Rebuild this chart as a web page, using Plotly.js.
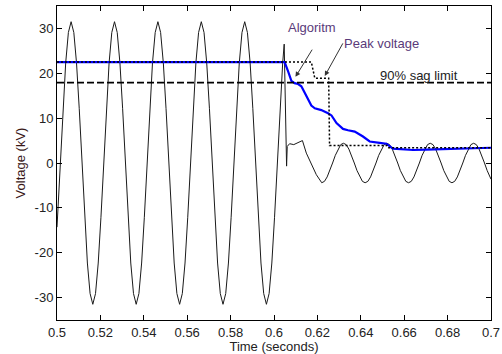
<!DOCTYPE html>
<html>
<head>
<meta charset="utf-8">
<script src="https://cdn.plot.ly/plotly-3.0.1.min.js"></script>
<style>html,body{margin:0;padding:0;background:#fff;}#chart{width:502px;height:354px;}</style>
</head>
<body>
<div id="chart"></div>
<script>
// Measured voltage waveform (kV) vs time (s)
var waveT = [0.5,
0.5015,0.50275,0.504,0.50525,0.5065,0.50775,0.509,0.51025,0.5115,0.51275,0.514,0.51525,0.5165,0.51775,0.519,0.52025,
0.5215,0.52275,0.524,0.52525,0.5265,0.52775,0.529,0.53025,0.5315,0.53275,0.534,0.53525,0.5365,0.53775,0.539,0.54025,
0.5415,0.54275,0.544,0.54525,0.5465,0.54775,0.549,0.55025,0.5515,0.55275,0.554,0.55525,0.5565,0.55775,0.559,0.56025,
0.5615,0.56275,0.564,0.56525,0.5665,0.56775,0.569,0.57025,0.5715,0.57275,0.574,0.57525,0.5765,0.57775,0.579,0.58025,
0.5815,0.58275,0.584,0.58525,0.5865,0.58775,0.589,0.59025,0.5915,0.59275,0.594,0.59525,0.5965,0.59775,0.599,0.60025,
0.6015,0.60275,0.604,0.6047,0.6058,0.6061,
0.6072,0.6091,0.6111,0.6131,0.6149,0.6172,0.6195,
0.622,0.62325,0.6245,0.62575,0.627,0.62825,0.6295,0.63075,0.632,0.63325,0.6345,0.63575,0.637,0.63825,0.6395,0.64075,
0.642,0.64325,0.6445,0.64575,0.647,0.64825,0.6495,0.65075,0.652,0.65325,0.6545,0.65575,0.657,0.65825,0.6595,0.66075,
0.662,0.66325,0.6645,0.66575,0.667,0.66825,0.6695,0.67075,0.672,0.67325,0.6745,0.67575,0.677,0.67825,0.6795,0.68075,
0.682,0.68325,0.6845,0.68575,0.687,0.68825,0.6895,0.69075,0.692,0.69325,0.6945,0.69575,0.697,0.69825,0.6995,0.7];
var waveV = [-14.3,
0,12.1,22.3,29.1,31.5,29.1,22.3,12.1,0,-12.1,-22.3,-29.1,-31.5,-29.1,-22.3,-12.1,
0,12.1,22.3,29.1,31.5,29.1,22.3,12.1,0,-12.1,-22.3,-29.1,-31.5,-29.1,-22.3,-12.1,
0,12.1,22.3,29.1,31.5,29.1,22.3,12.1,0,-12.1,-22.3,-29.1,-31.5,-29.1,-22.3,-12.1,
0,12.1,22.3,29.1,31.5,29.1,22.3,12.1,0,-12.1,-22.3,-29.1,-31.5,-29.1,-22.3,-12.1,
0,12.1,22.3,29.1,31.5,29.1,22.3,12.1,0,-12.1,-22.3,-29.1,-31.5,-29.1,-22.3,-12.1,
0,12.1,22.3,26.5,-0.7,3.7,
4.3,4.1,4.6,5.0,2.2,-0.4,-2.6,
-4.4,-4.1,-3.1,-1.7,0,1.7,3.1,4.1,4.4,4.1,3.1,1.7,0,-1.7,-3.1,-4.1,
-4.4,-4.1,-3.1,-1.7,0,1.7,3.1,4.1,4.4,4.1,3.1,1.7,0,-1.7,-3.1,-4.1,
-4.4,-4.1,-3.1,-1.7,0,1.7,3.1,4.1,4.4,4.1,3.1,1.7,0,-1.7,-3.1,-4.1,
-4.4,-4.1,-3.1,-1.7,0,1.7,3.1,4.1,4.4,4.1,3.1,1.7,0,-1.7,-3.1,-3.6];

// Algorithm estimate (blue)
var algoT = [0.5,0.6049,0.6065,0.608,0.6095,0.6111,0.6126,0.6141,0.6157,0.6172,0.6188,0.6218,0.6249,0.6265,0.6288,0.6318,0.6341,0.6372,0.641,0.6441,0.6487,0.6518,0.6548,0.66,0.6641,0.6702,0.6794,0.6887,0.7];
var algoV = [22.5,22.5,20.4,18.3,17.8,17.6,17.1,15.6,14.1,12.8,12.2,11.8,11.1,10.6,8.9,7.6,7.3,7.0,5.9,4.8,4.5,4.3,3.2,3.0,2.9,3.0,3.1,3.3,3.4];

// Peak voltage method (dotted)
var peakT = [0.5,0.6172,0.6188,0.6252,0.6256,0.652,0.6525,0.7];
var peakV = [22.5,22.5,18.9,18.9,3.9,3.9,3.4,3.4];

// 90% sag limit (dashed)
var sagT = [0.5,0.7];
var sagV = [17.9,17.9];

var xTicks = [0.5,0.52,0.54,0.56,0.58,0.6,0.62,0.64,0.66,0.68,0.7];
var yTicks = [-30,-20,-10,0,10,20,30];

var FONT = 'Liberation Sans, Arial, sans-serif';

var traces = [
  {x: waveT, y: waveV, type: 'scatter', mode: 'lines', line: {color: '#1a1a1a', width: 1}, hoverinfo: 'skip'},
  {x: algoT, y: algoV, type: 'scatter', mode: 'lines', line: {color: '#0000ff', width: 2.2}, hoverinfo: 'skip'},
  {x: peakT, y: peakV, type: 'scatter', mode: 'lines', line: {color: '#000', width: 1.5, dash: '2px,2px'}, hoverinfo: 'skip'},
  {x: sagT, y: sagV, type: 'scatter', mode: 'lines', line: {color: '#000', width: 1.8, dash: '7px,3px'}, hoverinfo: 'skip'}
];

var axisCommon = {
  showline: true, linecolor: '#000', linewidth: 1, mirror: 'allticks',
  ticks: 'inside', ticklen: 5, tickcolor: '#000', tickwidth: 1,
  showgrid: false, zeroline: false,
  tickfont: {family: FONT, size: 13, color: '#222'}
};

var layout = {
  width: 502, height: 354,
  margin: {l: 57, r: 11, t: 6, b: 34},
  paper_bgcolor: '#fff', plot_bgcolor: '#fff',
  showlegend: false,
  font: {family: FONT, size: 13, color: '#222'},
  xaxis: Object.assign({}, axisCommon, {
    range: [0.5, 0.7], tickvals: xTicks, ticktext: xTicks.map(String),
    title: {text: 'Time (seconds)', font: {family: FONT, size: 13, color: '#222'}, standoff: 1}
  }),
  yaxis: Object.assign({}, axisCommon, {
    range: [-35, 35], tickvals: yTicks, ticktext: yTicks.map(String),
    title: {text: 'Voltage (kV)', font: {family: FONT, size: 13, color: '#3a1818'}, standoff: 6}
  }),
  annotations: [
    {x: 0.6099, y: 19.2, xref: 'x', yref: 'y', axref: 'x', ayref: 'y', ax: 0.6180, ay: 25.6,
     text: '', showarrow: true, arrowhead: 2, arrowsize: 1, arrowwidth: 1, arrowcolor: '#333'},
    {x: 0.6234, y: 19.4, xref: 'x', yref: 'y', axref: 'x', ayref: 'y', ax: 0.6321, ay: 27.0,
     text: '', showarrow: true, arrowhead: 2, arrowsize: 1, arrowwidth: 1, arrowcolor: '#333'},
    {x: 0.6175, y: 30.1, xref: 'x', yref: 'y', text: 'Algoritm', showarrow: false,
     font: {family: FONT, size: 13, color: '#5a3a7a'}},
    {x: 0.6494, y: 26.7, xref: 'x', yref: 'y', text: 'Peak voltage', showarrow: false,
     font: {family: FONT, size: 13, color: '#5a3a7a'}},
    {x: 0.6666, y: 19.4, xref: 'x', yref: 'y', text: '90% sag limit', showarrow: false,
     font: {family: FONT, size: 13, color: '#222'}}
  ]
};

Plotly.newPlot('chart', traces, layout, {staticPlot: true, displayModeBar: false});
</script>
</body>
</html>
